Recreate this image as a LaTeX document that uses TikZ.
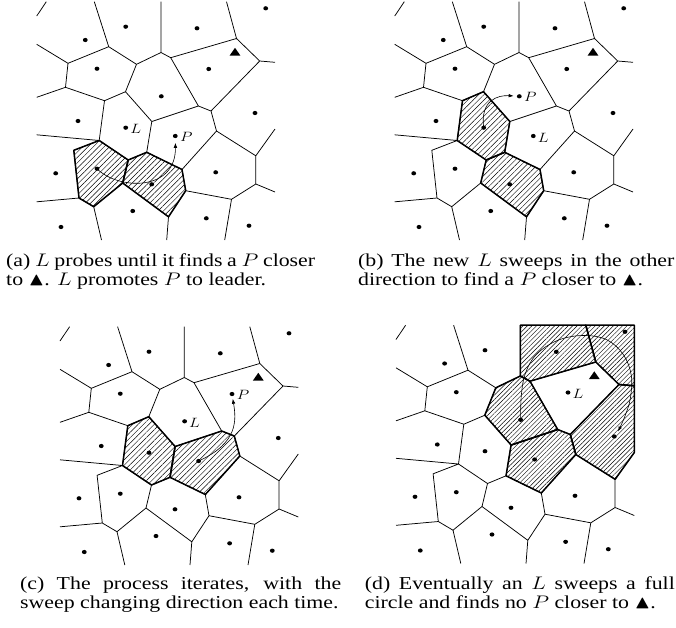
\RequirePackage{fix-cm}
\documentclass[tikz,border=0pt]{standalone}
\usepackage{amssymb}
\usepackage{fontspec}
\setmainfont{Liberation Serif}
\usetikzlibrary{patterns.meta,arrows.meta,shapes.geometric}

\tikzset{
  vedge/.style={line width=0.75pt},
  cellout/.style={line width=1.5pt,line join=round},
  hatch/.style={pattern={Lines[angle=45,distance=3.8pt,line width=0.45pt]}},
  hatchd/.style={pattern={Lines[angle=45,distance=3.2pt,line width=0.45pt]}},
  site/.style={circle,fill,inner sep=0pt,minimum size=4.2pt,xscale=1.15},
  goalmark/.style={regular polygon,regular polygon sides=3,fill,inner sep=0pt,minimum size=10.4pt,xscale=1.2},
  sweep/.style={line width=0.6pt,-{Latex[length=5pt,width=3.6pt]}},
  lab/.style={font=\fontsize{13.5}{16}\selectfont,inner sep=0pt,xscale=1.2},
  subcap/.style={font=\fontsize{18.2}{19.3}\selectfont,inner sep=0pt,anchor=base west},
}
% caption line: stretched horizontally like the rest of the figure
\newcommand\capwide[1]{\scalebox{1.2}[1]{#1}}

% Voronoi vertices and the points where edges leave the window
\newcommand\vorpoints{%
  \coordinate (ka) at (36.7,16);
  \coordinate (kb) at (46.3,1.7);
  \coordinate (Ta) at (94.3,1.7);
  \coordinate (Tf) at (161,1.7);
  \coordinate (Ti) at (226.5,1.7);
  \coordinate (TR) at (275,1.7);
  \coordinate (Lb) at (36.7,44.3);
  \coordinate (Ld) at (36.7,97.3);
  \coordinate (Ln) at (36.7,134.8);
  \coordinate (Ly) at (36.7,201.8);
  \coordinate (Rj) at (275,62.3);
  \coordinate (Rq) at (275,129);
  \coordinate (Rs) at (275,192);
  \coordinate (Bz) at (101.5,240);
  \coordinate (Bv) at (166.7,240);
  \coordinate (Bt) at (224.7,240);
  \coordinate (Va) at (108.7,46.7);
  \coordinate (Vb) at (68,63.3);
  \coordinate (Vc) at (136.5,64.3);
  \coordinate (Vd) at (65.5,87.3);
  \coordinate (Ve) at (104.5,100.7);
  \coordinate (Vf) at (161,52.5);
  \coordinate (Vg) at (125.5,91.7);
  \coordinate (Vh) at (170.7,57.7);
  \coordinate (Vi) at (236.5,38.5);
  \coordinate (Vj) at (259.7,61);
  \coordinate (Vk) at (211,111);
  \coordinate (Vl) at (198.4,106);
  \coordinate (Vm) at (151.8,121.5);
  \coordinate (Vn) at (99.2,140.5);
  \coordinate (Vo) at (146.7,152.3);
  \coordinate (Vp) at (216.5,131);
  \coordinate (Vq) at (255.8,155.8);
  \coordinate (Vr) at (182,169.5);
  \coordinate (Vs) at (255.8,184);
  \coordinate (Vt) at (231.5,199.3);
  \coordinate (Vu) at (185.7,190.7);
  \coordinate (Vv) at (168.5,216.8);
  \coordinate (Vw) at (73.8,150.3);
  \coordinate (Vx) at (128.2,160);
  \coordinate (Vy) at (79,198);
  \coordinate (Vz) at (93.7,206.7);
  \coordinate (Vaa) at (122.7,183);
}

% all cell boundaries
\newcommand\voredges{%
  \draw[vedge]
    (ka)--(kb)
    (Va)--(Ta) (Va)--(Vb) (Va)--(Vc)
    (Vb)--(Lb) (Vb)--(Vd)
    (Vd)--(Ld) (Vd)--(Ve)
    (Vc)--(Vf) (Vc)--(Vg)
    (Vf)--(Tf) (Vf)--(Vh)
    (Vh)--(Vi) (Vh)--(Vl)
    (Vi)--(Ti) (Vi)--(Vj)
    (Vj)--(Rj) (Vj)--(Vk)
    (Vk)--(Vl) (Vk)--(Vp)
    (Vl)--(Vm)
    (Vg)--(Ve) (Vg)--(Vm)
    (Ve)--(Vn)
    (Vm)--(Vo)
    (Vp)--(Vq) (Vp)--(Vr)
    (Vq)--(Rq) (Vq)--(Vs)
    (Vs)--(Rs) (Vs)--(Vt)
    (Vt)--(Vu) (Vt)--(Bt)
    (Vr)--(Vu) (Vr)--(Vo)
    (Vu)--(Vv)
    (Vv)--(Bv) (Vv)--(Vaa)
    (Vn)--(Ln) (Vn)--(Vw) (Vn)--(Vx)
    (Vw)--(Vy)
    (Vy)--(Ly) (Vy)--(Vz)
    (Vz)--(Bz) (Vz)--(Vaa)
    (Vaa)--(Vx)
    (Vx)--(Vo);
}

% the sites and the target
\newcommand\vorsites{%
  \node[site] (s1) at (265.7,8.3) {};
  \node[site] (s2) at (125.7,26.7) {};
  \node[site] (s3) at (197,28.3) {};
  \node[site] (s4) at (85.3,40) {};
  \node[site] (s5) at (97,68.7) {};
  \node[site] (s6) at (208.7,69) {};
  \node[site] (s7) at (161.3,96.3) {};
  \node[site] (s8) at (255,113) {};
  \node[site] (s9) at (78,121) {};
  \node[site] (s10) at (125.7,127.7) {};
  \node[site] (s11) at (175.3,136) {};
  \node[site] (s12) at (97,168.7) {};
  \node[site] (s13) at (55.7,173.3) {};
  \node[site] (s14) at (215.7,172.3) {};
  \node[site] (s15) at (151.7,184.3) {};
  \node[site] (s16) at (132.7,211) {};
  \node[site] (s17) at (206.3,218.3) {};
  \node[site] (s18) at (61,227) {};
  \node[site] (s19) at (249,225.7) {};
  \node[goalmark] (goal) at (235,53) {};
}

% cells
\newcommand\cellten{(Ve)--(Vg)--(Vm)--(Vo)--(Vx)--(Vn)--cycle}
\newcommand\celleleven{(Vm)--(Vl)--(Vk)--(Vp)--(Vr)--(Vo)--cycle}
\newcommand\celltwelve{(Vw)--(Vn)--(Vx)--(Vaa)--(Vz)--(Vy)--cycle}
\newcommand\cellfifteen{(Vx)--(Vo)--(Vr)--(Vu)--(Vv)--(Vaa)--cycle}
\newcommand\cellseven{(Vc)--(Vf)--(Vh)--(Vl)--(Vm)--(Vg)--cycle}
\newcommand\cellthree{(Tf)--(Vf)--(Vh)--(Vi)--(Ti)--cycle}
\newcommand\cellone{(Ti)--(Vi)--(Vj)--(Rj)--(TR)--cycle}
\newcommand\celleight{(Vk)--(Vj)--(Rj)--(Rq)--(Vq)--(Vp)--cycle}

\begin{document}
\begin{tikzpicture}[x=1pt,y=-1pt]
\useasboundingbox (0,0) rectangle (676,627);

% (a)
\begin{scope}[name prefix=a-]
  \vorpoints
  \fill[hatch] \celltwelve;
  \fill[hatch] \cellfifteen;
  \voredges
  \draw[cellout] \celltwelve;
  \draw[cellout] \cellfifteen;
  \vorsites
  \draw[sweep,shorten >=4.5pt] (s12.center) .. controls (118,190) and (176,192) .. (s11);
  \node[lab] (lL) at (135.7,129.2) {$L$};
  \node[lab] (lP) at (186.3,136.5) {$P$};
\end{scope}

% (b)
\begin{scope}[shift={(358,0)},name prefix=b-]
  \vorpoints
  \fill[hatch] \cellten;
  \fill[hatch] \cellfifteen;
  \voredges
  \draw[cellout] \cellten;
  \draw[cellout] \cellfifteen;
  \vorsites
  \draw[sweep,shorten >=3pt] (s10.center) .. controls (122,100) and (140,95) .. (s7);
  \node[lab] (lL) at (185.3,137.5) {$L$};
  \node[lab] (lP) at (172.3,96.8) {$P$};
\end{scope}

% (c)
\begin{scope}[shift={(23.3,325)},name prefix=c-]
  \vorpoints
  \fill[hatch] \cellten;
  \fill[hatch] \celleleven;
  \voredges
  \draw[cellout] \cellten;
  \draw[cellout] \celleleven;
  \vorsites
  \draw[sweep,shorten >=2.5pt] (s11.center) .. controls (215,118) and (213,95) .. (s6);
  \node[lab] (lL) at (171.3,97.8) {$L$};
  \node[lab] (lP) at (219.7,69.5) {$P$};
\end{scope}

% (d)
\begin{scope}[shift={(359.3,323.5)},name prefix=d-]
  \vorpoints
  \fill[hatchd] \cellthree;
  \fill[hatchd] \cellone;
  \fill[hatchd] \celleight;
  \fill[hatchd] \cellseven;
  \fill[hatchd] \celleleven;
  \voredges
  \draw[cellout] \cellthree;
  \draw[cellout] \cellone;
  \draw[cellout] \celleight;
  \draw[cellout] \cellseven;
  \draw[cellout] \celleleven;
  \vorsites
  \coordinate (tip) at (258.7,108);
  \draw[sweep] plot[smooth,tension=0.6] coordinates {(s7.center) (162,72) (166,50) (177,31) (198,17) (223,12) (247,16) (264,31) (272,52) (271,75) (265.5,93) (tip)};
  \node[lab] (lL) at (218.7,70.5) {$L$};
\end{scope}

% sub-captions
\node[subcap] (capa1) at (6,266.3) {\capwide{\makebox[257.5pt][s]{(a) $L$ probes until it finds a $P$ closer}}};
\node[subcap] (capa2) at (6,285.6) {\capwide{to $\blacktriangle$. $L$ promotes $P$ to leader.}};
\node[subcap] (capb1) at (358,266.3) {\capwide{\makebox[263.5pt][s]{(b) The new $L$ sweeps in the other}}};
\node[subcap] (capb2) at (358,285.6) {\capwide{direction to find a $P$ closer to $\blacktriangle$.}};
\node[subcap] (capc1) at (20,589) {\capwide{\makebox[267.5pt][s]{(c) The process iterates, with the}}};
\node[subcap] (capc2) at (20,608.3) {\capwide{sweep changing direction each time.}};
\node[subcap] (capd1) at (364.7,589) {\capwide{\makebox[258.3pt][s]{(d) Eventually an $L$ sweeps a full}}};
\node[subcap] (capd2) at (364.7,608.3) {\capwide{circle and finds no $P$ closer to $\blacktriangle$.}};
\end{tikzpicture}
\end{document}
